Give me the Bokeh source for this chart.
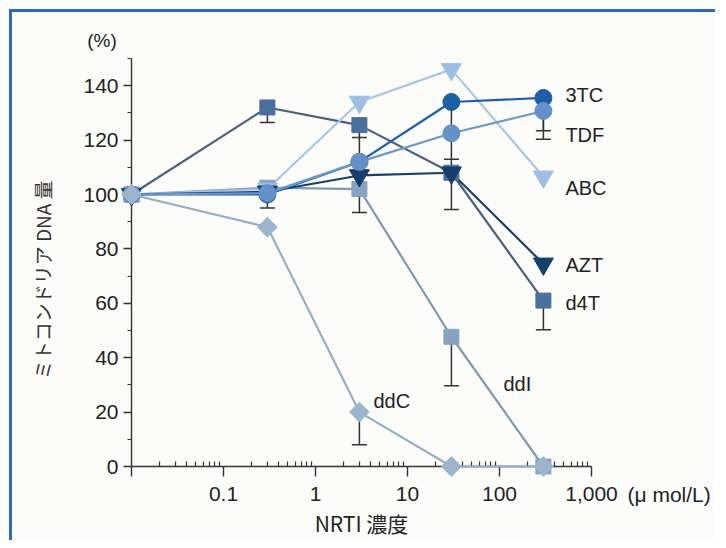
import math
from bokeh.plotting import figure
from bokeh.models import (ColumnDataSource, Whisker, TeeHead, FixedTicker,
                          SingleIntervalTicker, CustomJSTickFormatter, Range1d)
from bokeh.core.properties import value
from bokeh.embed import file_html
from bokeh.resources import INLINE

# ---------------- data ----------------
conc = [0.01, 0.3, 3, 30, 300]          # NRTI concentration (µmol/L); 0.01 = control
tc3 = [100, 100, 112, 134, 135.5]       # 3TC
tdf = [100, 100.5, 112, 122.5, 130.7]   # TDF
abc = [100, 102, 134, 146, 106.5]       # ABC
azt = [100, 101, 107, 108, 74.5]        # AZT
d4t = [100, 132, 125.5, 108, 61]        # d4T
ddi = [100, 102.5, 102, 47.7, 0]        # ddI
ddc = [100, 88, 20, 0, 0]               # ddC

# error-bar ends (None = no bar)
tc3_lo = [None, 95, None, 122.5, 123.4]
tdf_lo = [None, None, None, 113, 120.3]
tdf_hi = [None, None, 121, None, None]
d4t_lo = [None, 126.5, 121, 94.5, 50.3]
d4t_hi = [None, None, None, 113, None]
ddi_lo = [None, None, 93.4, 29.7, None]
ddc_lo = [None, None, 8, None, None]

x_major = [0.01, 0.1, 1, 10, 100, 1000]
x_tick_labels = ["", "0.1", "1", "10", "100", "1,000"]
y_label = "ミトコンドリア DNA 量"
x_label = "NRTI 濃度"
x_unit = "(μ mol/L)"
y_unit = "(%)"

# ---------------- figure ----------------
BG = "#fcfcfb"
p = figure(x_axis_type="log", x_range=Range1d(0.01, 1000), y_range=Range1d(0, 150),
           frame_width=460, frame_height=408,
           min_border_left=119, min_border_right=124, min_border_top=46, min_border_bottom=72,
           output_backend="svg", toolbar_location=None,
           background_fill_color=BG, border_fill_color=BG)
p.styles = {"border-left": "3px solid #2f6db0", "border-top": "3px solid #2f6db0",
            "margin-left": "9px", "margin-top": "9px"}
p.outline_line_color = None
p.xgrid.grid_line_color = None
p.ygrid.grid_line_color = None

AX = "#333333"
TICK_FONT = "Liberation Sans"
xa = p.xaxis[0]
xa.ticker = FixedTicker(ticks=x_major,
                        minor_ticks=[d * m for d in x_major[:-1] for m in range(2, 10)])
xa.formatter = CustomJSTickFormatter(
    args=dict(major_vals=x_major, major_labels=x_tick_labels),
    code="""
    for (let i = 0; i < major_vals.length; i++) {
      if (Math.abs(Math.log10(major_vals[i]) - Math.log10(tick)) < 1e-6) return major_labels[i];
    }
    return '';
    """)
xa.major_tick_in = 0
xa.major_tick_out = 10
xa.minor_tick_in = 5
xa.minor_tick_out = 0
xa.axis_label = x_label
xa.axis_label_text_font = "Noto Sans CJK JP"
xa.axis_label_text_font_style = "normal"
xa.axis_label_text_font_size = "21px"
xa.axis_label_text_color = "#222222"
xa.axis_label_standoff = 4
xa.major_label_standoff = 10

ya = p.yaxis[0]
ya.ticker = SingleIntervalTicker(interval=20, num_minor_ticks=2)
ya.major_tick_in = 0
ya.major_tick_out = 8
ya.minor_tick_in = 0
ya.minor_tick_out = 4
ya.major_label_standoff = 5

for ax in (xa, ya):
    ax.axis_line_color = AX
    ax.axis_line_width = 1.4
    ax.major_tick_line_color = AX
    ax.major_tick_line_width = 1.4
    ax.minor_tick_line_color = AX
    ax.minor_tick_line_width = 1.2
    ax.major_label_text_font = TICK_FONT
    ax.major_label_text_font_size = "21px"
    ax.major_label_text_color = "#222222"

# ---------------- error bars ----------------
def add_bars(vals, ends, with_cap):
    base, lower, upper = [], [], []
    for xv, v, e in zip(conc, vals, ends):
        if e is None:
            continue
        base.append(xv)
        lower.append(min(v, e))
        upper.append(max(v, e))
    if not base:
        return
    src = ColumnDataSource(dict(base=base, lower=lower, upper=upper))
    w = Whisker(source=src, base="base", lower="lower", upper="upper", dimension="height",
                line_color="#333333", line_width=1.5,
                lower_head=TeeHead(size=15, line_color="#333333", line_width=1.5) if with_cap else None,
                upper_head=None)
    p.add_layout(w)

add_bars(tc3, tc3_lo, True)
add_bars(tdf, tdf_lo, True)
add_bars(tdf, tdf_hi, False)
add_bars(d4t, d4t_lo, True)
add_bars(d4t, d4t_hi, False)
add_bars(ddi, ddi_lo, True)
add_bars(ddc, ddc_lo, True)

# ---------------- series ----------------
series = [
    # name, values, marker, size, angle, fill, line colour
    ("d4T", d4t, "square", 15, 0, "#4b6f9b", "#4d6079"),
    ("ddI", ddi, "square", 15, 0, "#88a3bf", "#7f98b2"),
    ("ABC", abc, "inverted_triangle", 20, 0, "#9fbfe2", "#a9c5e3"),
    ("AZT", azt, "inverted_triangle", 20, 0, "#163e6c", "#173f6c"),
    ("3TC", tc3, "circle", 17, 0, "#1c5fa6", "#1c5fa6"),
    ("TDF", tdf, "circle", 17, 0, "#6391c8", "#6d98cb"),
    ("ddC", ddc, "square", 14, math.pi / 4, "#9cb5cd", "#93aec7"),
]

for name, vals, mk, sz, ang, fill, lc in series:
    r = p.line(conc, vals, line_color=lc, line_width=2.2)
    r.level = "overlay"

for name, vals, mk, sz, ang, fill, lc in series:
    r = p.scatter(conc, vals, marker=mk, size=sz, angle=ang,
                  fill_color=fill, line_color=fill, line_width=1)
    r.level = "overlay"

# ---------------- text ----------------
def lab(text, x, y, xo=0, align="left", font=TICK_FONT, size="20px", angle=0, color="#222222"):
    r = p.text(x=[x], y=[y], text=[text], x_offset=xo, angle=angle,
               text_align=align, text_baseline="middle",
               text_font=value(font), text_font_size=value(size),
               text_color=color)
    r.level = "overlay"

lab("3TC", 300, 136.6, 22)
lab("TDF", 300, 121.9, 22)
lab("ABC", 300, 102.4, 22)
lab("AZT", 300, 74.1, 22)
lab("d4T", 300, 60.1, 22)
lab("ddI", 30, 30.3, 52)
lab("ddC", 3, 24.1, 14)
lab(x_unit, 1000, -10.3, 36, size="21px")
lab(y_unit, 0.01, 156.8, -29.5, align="center", size="19px")
lab(y_label, 0.01, 68.6, -89, align="center", font="Noto Sans CJK JP", size="19px",
    angle=math.pi / 2, color="#333333")

open("out.html", "w").write(file_html(p, INLINE))
